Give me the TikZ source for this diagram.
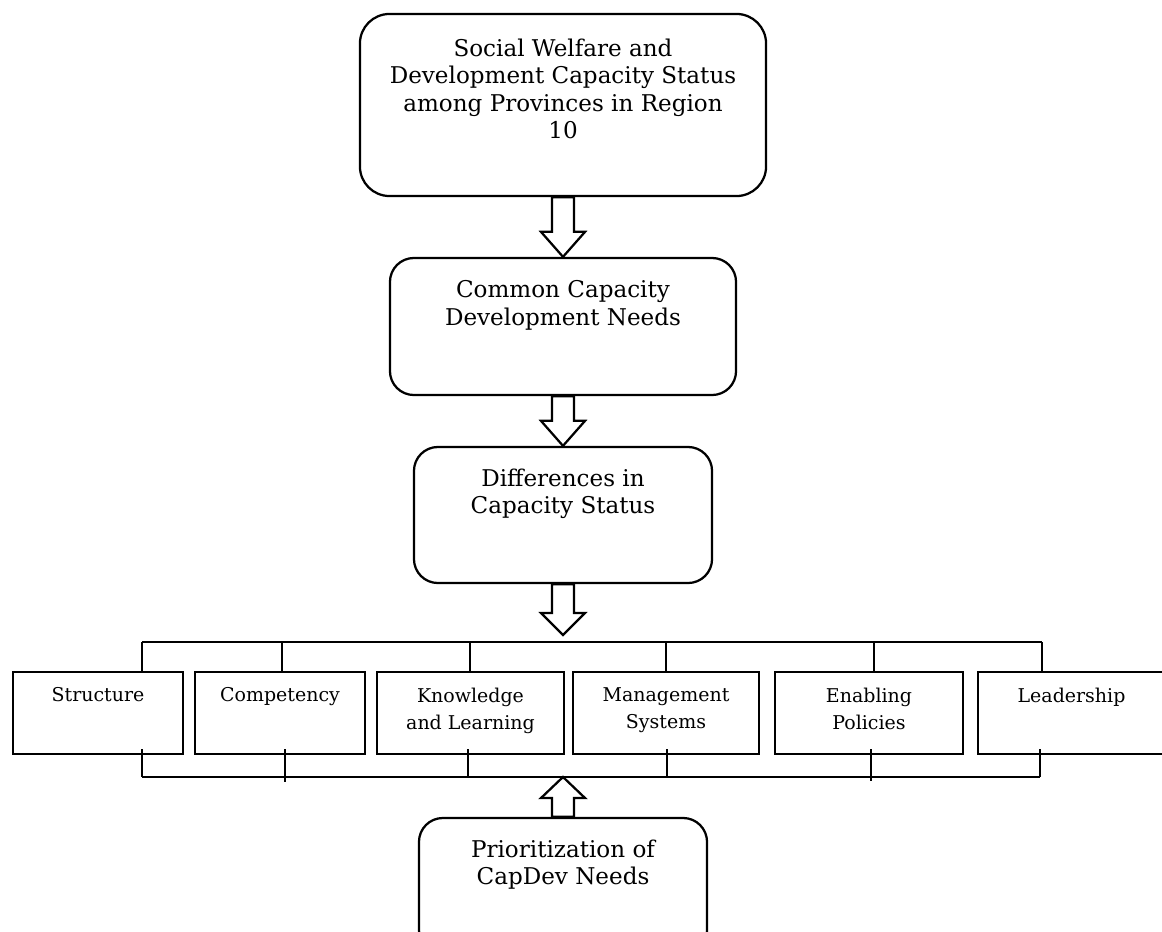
\documentclass[tikz,border=0pt]{standalone}
\usepackage{fontspec}
\setmainfont{DejaVu Serif}
\usetikzlibrary{positioning,calc}

% hollow block arrow from #1 to the tip #2, #3 = head length (sign gives direction)
\newcommand{\blockarrow}[3]{%
  \draw[hollowarrow] ($(#1)+(-11,0)$) -- ($(#2)+(-11,#3)$) -- ($(#2)+(-22,#3)$)
    -- (#2) -- ($(#2)+(22,#3)$) -- ($(#2)+(11,#3)$) -- ($(#1)+(11,0)$) -- cycle;}

\begin{document}
\begin{tikzpicture}[x=0.025cm, y=-0.025cm,
  capbox/.style={draw, line width=1.6pt, rounded corners=17pt, inner sep=0pt},
  areabox/.style={draw, line width=1.9pt, inner sep=0pt, minimum height=2.05cm},
  bigtext/.style={align=center, inner sep=0pt, font=\fontsize{16.4}{19.6}\selectfont},
  smalltext/.style={align=center, inner sep=0pt, font=\fontsize{13.5}{19.2}\selectfont},
  hollowarrow/.style={draw, fill=white, line width=1.6pt, line join=miter},
  busline/.style={line width=0.8pt}]
  \useasboundingbox (0,0) rectangle (1162,932);

  % status box
  \node[capbox, rounded corners=21pt, minimum width=10.15cm, minimum height=4.55cm] (status) at (563,105) {};
  \node[bigtext, below=0.64cm of status.north] (statustxt)
    {Social Welfare and\\Development Capacity Status\\among Provinces in Region\\10};

  % common needs
  \node[capbox, minimum width=8.65cm, minimum height=3.425cm] (common) at (563,326.5) {};
  \node[bigtext, below=0.58cm of common.north] (commontxt) {Common Capacity\\Development Needs};

  % differences
  \node[capbox, minimum width=7.45cm, minimum height=3.4cm] (differ) at (563,515) {};
  \node[bigtext, below=0.56cm of differ.north] (differtxt) {Differences in\\Capacity Status};

  % prioritization
  \node[capbox, minimum width=7.2cm, minimum height=3.4cm] (prior) at (563,886) {};
  \node[bigtext, below=0.56cm of prior.north] (priortxt) {Prioritization of\\CapDev Needs};

  % capacity areas
  \node[areabox, minimum width=4.25cm] (structure) at (98,713) {};
  \node[areabox, minimum width=4.25cm] (competency) at (280,713) {};
  \node[areabox, minimum width=4.675cm] (knowledge) at (470.5,713) {};
  \node[areabox, minimum width=4.65cm] (management) at (666,713) {};
  \node[areabox, minimum width=4.7cm] (enabling) at (869,713) {};
  \node[areabox, minimum width=4.675cm] (leadership) at (1071.5,713) {};
  \node[smalltext, below=0.42cm of structure.north] (structuretxt) {Structure};
  \node[smalltext, below=0.42cm of competency.north] (competencytxt) {Competency};
  \node[smalltext, below=0.42cm of knowledge.north] (knowledgetxt) {Knowledge\\and Learning};
  \node[smalltext, below=0.42cm of management.north] (managementtxt) {Management\\Systems};
  \node[smalltext, below=0.42cm of enabling.north] (enablingtxt) {Enabling\\Policies};
  \node[smalltext, below=0.42cm of leadership.north] (leadershiptxt) {Leadership};

  % bus lines
  \coordinate (split) at (563,635);
  \coordinate (merge) at (563,777);
  \coordinate (tbusW) at (142,642);
  \coordinate (tbusE) at (1042,642);
  \coordinate (bbusW) at (142,777);
  \coordinate (bbusE) at (1040,777);
  \draw[busline] (tbusW) -- (tbusE);
  \draw[busline] (bbusW) -- (bbusE);
  \foreach \nm/\tx in {structure/142, competency/282, knowledge/470, management/666, enabling/874, leadership/1042}
    \draw[busline] (\tx,642) -- (\nm.north -| \tx,0);
  \foreach \nm/\tx/\ty in {structure/142/777, competency/285/782, knowledge/468/777, management/667/777, enabling/871/781, leadership/1040/777}
    \draw[busline] (\nm.south -| \tx,0) ++(0,-6) -- (\tx,\ty);

  % arrows
  \blockarrow{status.south}{common.north}{-25}
  \blockarrow{common.south}{differ.north}{-25}
  \blockarrow{differ.south}{split}{-22}
  \blockarrow{prior.north}{merge}{21}
\end{tikzpicture}
\end{document}
